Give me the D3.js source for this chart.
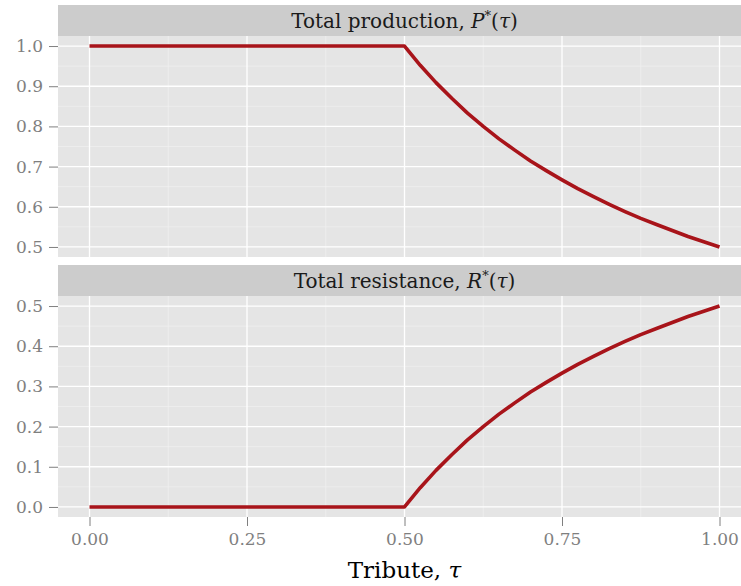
<!DOCTYPE html>
<html>
<head>
<meta charset="utf-8">
<script src="https://cdn.jsdelivr.net/npm/d3@7"></script>
<style>
body { margin: 0; background: #fff; }
text { font-family: "DejaVu Serif", "Liberation Serif", serif; }
</style>
</head>
<body>
<svg id="mainsvg"></svg>
<script>
// values
let tribute    = [0, 0.500, 0.525, 0.550, 0.575, 0.600, 0.625, 0.650, 0.675, 0.700, 0.725, 0.750,
                  0.775, 0.800, 0.825, 0.850, 0.875, 0.900, 0.925, 0.950, 0.975, 1.000];
let production = [1, 1.000, 0.952, 0.909, 0.870, 0.833, 0.800, 0.769, 0.741, 0.714, 0.690, 0.667,
                  0.645, 0.625, 0.606, 0.588, 0.571, 0.556, 0.541, 0.526, 0.513, 0.500];
let resistance = [0, 0.000, 0.048, 0.091, 0.130, 0.167, 0.200, 0.231, 0.259, 0.286, 0.310, 0.333,
                  0.355, 0.375, 0.394, 0.412, 0.429, 0.444, 0.459, 0.474, 0.487, 0.500];
let xTicks = [0, 0.25, 0.5, 0.75, 1];
let yTicksTop = [0.5, 0.6, 0.7, 0.8, 0.9, 1.0];
let yTicksBottom = [0, 0.1, 0.2, 0.3, 0.4, 0.5];

let svgWidth = 741, svgHeight = 586;
let mainsvg = d3.select("#mainsvg").attr("width", svgWidth).attr("height", svgHeight);

let panelLeft = 58, panelRight = 751,
    stripH = 31;
let panels = [
    {top: 5, values: production, ticks: yTicksTop, domain: [0.475, 1.025]},
    {top: 265, values: resistance, ticks: yTicksBottom, domain: [-0.025, 0.525]}
];
let panelH = 221;

let scaleX = d3.scaleLinear().domain([-0.05, 1.05]).range([panelLeft, panelRight]);

panels.forEach((p, i) => {
    let g = mainsvg.append("g");
    let y0 = p.top + stripH, y1 = y0 + panelH;
    let scaleY = d3.scaleLinear().domain(p.domain).range([y1, y0]);

    // strip
    g.append("rect").attr("x", panelLeft).attr("y", p.top)
        .attr("width", panelRight - panelLeft).attr("height", stripH).attr("fill", "#cccccc");
    let st = g.append("text").attr("x", (panelLeft + panelRight) / 2).attr("y", p.top + 23)
        .attr("text-anchor", "middle").attr("font-size", 20).attr("fill", "#1a1a1a");
    st.append("tspan").text(i === 0 ? "Total production, " : "Total resistance, ");
    st.append("tspan").attr("font-style", "italic").text(i === 0 ? "P" : "R");
    st.append("tspan").attr("font-size", 13).attr("dy", -8).text("*");
    st.append("tspan").attr("dy", 8).text("(");
    st.append("tspan").attr("font-style", "italic").text("τ");
    st.append("tspan").text(")");

    // panel background
    g.append("rect").attr("x", panelLeft).attr("y", y0)
        .attr("width", panelRight - panelLeft).attr("height", panelH).attr("fill", "#e5e5e5");

    // minor grid
    let minorX = xTicks.slice(1).map((d, k) => (d + xTicks[k]) / 2);
    let minorY = p.ticks.slice(1).map((d, k) => (d + p.ticks[k]) / 2);
    g.selectAll(".minx").data(minorX).enter().append("line")
        .attr("x1", d => scaleX(d)).attr("x2", d => scaleX(d)).attr("y1", y0).attr("y2", y1)
        .attr("stroke", "#f2f2f2").attr("stroke-width", 0.6);
    g.selectAll(".miny").data(minorY).enter().append("line")
        .attr("x1", panelLeft).attr("x2", panelRight).attr("y1", d => scaleY(d)).attr("y2", d => scaleY(d))
        .attr("stroke", "#f2f2f2").attr("stroke-width", 0.6);
    // major grid
    g.selectAll(".majx").data(xTicks).enter().append("line")
        .attr("x1", d => scaleX(d)).attr("x2", d => scaleX(d)).attr("y1", y0).attr("y2", y1)
        .attr("stroke", "#ffffff").attr("stroke-width", 1.3);
    g.selectAll(".majy").data(p.ticks).enter().append("line")
        .attr("x1", panelLeft).attr("x2", panelRight).attr("y1", d => scaleY(d)).attr("y2", d => scaleY(d))
        .attr("stroke", "#ffffff").attr("stroke-width", 1.3);

    // y axis
    let ay = g.append("g").attr("transform", `translate(${panelLeft},0)`)
        .call(d3.axisLeft(scaleY).tickValues(p.ticks).tickFormat(d3.format(".1f")).tickSize(9).tickPadding(6));
    ay.select(".domain").remove();
    ay.selectAll("line").attr("stroke", "#7f7f7f").attr("stroke-width", 1);
    ay.selectAll("text").attr("fill", "#7f7f7f").attr("font-size", 17)
        .attr("font-family", "'DejaVu Serif', serif");

    // line
    let pts = tribute.map((t, k) => [t, p.values[k]]);
    g.append("path").datum(pts)
        .attr("d", d3.line().x(d => scaleX(d[0])).y(d => scaleY(d[1])))
        .attr("fill", "none").attr("stroke", "#a8141a").attr("stroke-width", 3.6)
        .attr("stroke-linejoin", "round");

    if (i === 1) {
        let ax = g.append("g").attr("transform", `translate(0,${y1})`)
            .call(d3.axisBottom(scaleX).tickValues(xTicks).tickFormat(d3.format(".2f")).tickSize(9).tickPadding(7));
        ax.select(".domain").remove();
        ax.selectAll("line").attr("stroke", "#7f7f7f").attr("stroke-width", 1);
        ax.selectAll("text").attr("fill", "#7f7f7f").attr("font-size", 17)
            .attr("font-family", "'DejaVu Serif', serif");
    }
});

let xt = mainsvg.append("text").attr("x", (panelLeft + panelRight) / 2).attr("y", 578)
    .attr("text-anchor", "middle").attr("font-size", 23).attr("fill", "#000");
xt.append("tspan").text("Tribute, ");
xt.append("tspan").attr("font-style", "italic").text("τ");
</script>
</body>
</html>
